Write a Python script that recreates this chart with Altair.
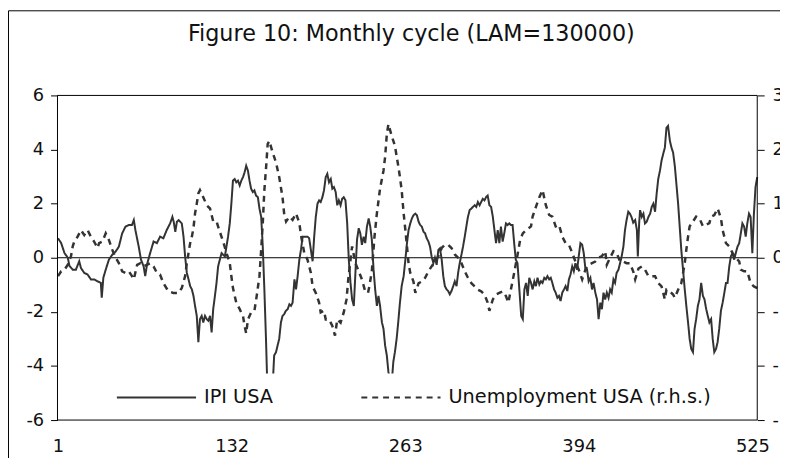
import altair as alt
import pandas as pd

FONT = "DejaVu Sans"
TITLE = "Figure 10: Monthly cycle (LAM=130000)"
series_names = ["IPI USA", "Unemployment USA (r.h.s.)"]
x_ticks = [1, 132, 263, 394, 525]
left_ticks = [-6, -4, -2, 0, 2, 4, 6]
right_ticks = [-3, -2, -1, 0, 1, 2, 3]

# IPI USA (left axis)
ipi_t = [1, 3.4, 5.9, 8.4, 9.6, 12.1, 14.5, 17.0, 18.3, 20.8, 23.3, 25.8, 28.2, 30.8, 33.3, 34.0, 35.2, 37.0,
         39.4, 41.9, 44.5, 46.9, 49.4, 51.9, 54.4, 56.8, 58.2, 59.4, 61.9, 63.6, 65.6, 66.8, 68.1, 70.5, 73.1,
         75.6, 78.0, 80.5, 83.0, 85.6, 87.3, 88.3, 89.5, 90.7, 92.0, 94.4, 95.7, 96.9, 98.2, 99.5, 100.7, 102.0,
         103.2, 104.4, 105.7, 106.9, 108.1, 109.4, 110.6, 111.9, 113.2, 114.4, 115.7, 116.9, 118.1, 119.4,
         120.6, 121.8, 123.1, 124.4, 125.6, 126.9, 128.1, 129.3, 130.6, 131.8, 133.0, 134.3, 135.5, 136.8,
         138.1, 139.3, 140.6, 141.8, 143.0, 144.3, 145.5, 146.7, 148.0, 149.2, 150.4, 151.8, 153.0, 154.3,
         155.5, 156.7, 158.0, 158.7, 160.8, 163.4, 164.1, 165.5, 166.7, 167.9, 169.2, 170.4, 171.6, 172.9,
         174.3, 175.6, 176.8, 178.0, 179.4, 180.6, 181.8, 183.1, 184.3, 185.6, 186.8, 188.0, 189.3, 190.5,
         191.8, 193.1, 194.3, 195.5, 196.8, 198.0, 199.2, 200.5, 201.7, 203.0, 204.2, 205.5, 206.8, 208.0,
         209.2, 210.5, 211.7, 212.9, 214.2, 215.4, 216.6, 217.9, 219.2, 220.4, 221.7, 222.9, 224.2, 225.4,
         226.6, 227.9, 229.1, 230.3, 231.6, 232.8, 234.1, 235.4, 236.6, 237.8, 239.1, 240.3, 241.6, 242.8,
         244.0, 245.4, 246.6, 247.8, 249.1, 250.3, 251.8, 253.3, 254.0, 255.2, 256.5, 257.7, 259.0, 260.3,
         261.8, 263.1, 264.3, 265.5, 266.8, 268.0, 269.2, 270.6, 271.8, 273.1, 274.3, 275.5, 276.8, 278.0,
         279.2, 280.5, 281.7, 282.9, 284.2, 285.4, 286.7, 288.0, 289.2, 290.5, 291.7, 292.9, 294.2, 295.4,
         296.6, 297.9, 299.2, 300.4, 301.7, 302.9, 304.1, 305.4, 306.6, 307.9, 309.1, 310.3, 311.6, 312.9,
         314.1, 315.4, 316.6, 317.8, 319.1, 320.3, 321.5, 322.8, 324.0, 325.2, 326.5, 327.8, 329.1, 330.3,
         331.5, 332.8, 334.0, 335.2, 336.5, 337.7, 339.0, 340.3, 341.5, 342.7, 344.0, 345.2, 346.4, 347.7,
         349.1, 350.5, 351.7, 352.9, 354.2, 355.4, 356.6, 357.9, 359.1, 360.4, 361.6, 362.8, 364.2, 365.4,
         366.6, 367.9, 369.1, 370.3, 371.6, 372.8, 374.0, 375.3, 376.5, 377.8, 379.0, 380.2, 381.5, 382.8,
         384.0, 385.3, 386.5, 387.7, 389.0, 390.2, 391.4, 392.7, 393.9, 395.2, 396.5, 397.7, 399.0, 400.2,
         401.4, 402.7, 403.9, 405.1, 406.4, 407.7, 408.9, 410.2, 411.4, 412.6, 413.9, 415.1, 416.4, 417.6,
         418.8, 420.1, 421.3, 422.5, 423.9, 425.1, 426.3, 427.6, 428.8, 430.0, 431.3, 432.5, 433.7, 435.0,
         436.5, 437.8, 438.5, 439.5, 440.2, 441.5, 442.7, 443.9, 445.2, 446.5, 447.8, 449.0, 450.2, 451.5,
         452.7, 453.9, 455.2, 456.4, 457.6, 458.9, 460.1, 461.3, 462.7, 463.9, 465.1, 466.4, 467.6, 468.9,
         470.1, 471.3, 472.6, 473.9, 475.1, 476.4, 477.6, 478.8, 480.1, 481.3, 482.5, 483.8, 485.0, 486.3,
         487.6, 488.8, 490.1, 491.3, 492.5, 493.8, 495.0, 496.2, 497.5, 498.7, 499.9, 501.2, 502.5, 503.8,
         505.0, 506.2, 507.5, 508.7, 509.9, 511.2, 512.4, 513.7, 515.0, 516.2, 517.4, 518.7, 519.9, 521.1,
         522.4, 523.6, 524.9, 526.1, 527.3, 528.6]
ipi_v = [0.72, 0.54, 0.17, 0.0, -0.3, -0.44, -0.44, -0.13, -0.38, -0.56, -0.62, -0.8, -0.8, -0.87, -0.93, -1.48,
         -0.74, -0.44, -0.07, 0.11, 0.23, 0.41, 0.9, 1.15, 1.21, 1.21, 1.39, 1.02, 0.41, -0.07, -0.32, -0.68,
         -0.26, 0.17, 0.6, 0.54, 0.78, 0.72, 1.02, 1.27, 1.51, 1.33, 0.96, 1.33, 1.39, 1.27, 0.78, 0.05, -0.56,
         -0.8, -1.05, -1.17, -1.41, -1.78, -2.15, -3.12, -2.27, -2.15, -2.39, -2.15, -2.27, -2.33, -2.15, -2.76,
         -1.9, -1.41, -0.93, -0.32, -0.07, 0.17, 0.11, 0.05, 0.41, 0.78, 1.27, 2.0, 2.85, 2.91, 2.79, 2.85,
         2.67, 2.85, 2.98, 3.16, 3.4, 3.22, 2.85, 2.55, 2.43, 2.49, 2.3, 2.24, 1.82, 1.51, 0.41, -1.17, -3.12,
         -4.34, -5.0, -4.3, -3.61, -3.49, -3.24, -3.0, -2.39, -2.15, -2.09, -1.96, -1.9, -1.72, -1.78, -1.66,
         -0.8, -1.17, -0.68, -0.07, 0.29, 0.78, 0.78, 0.78, 0.78, 0.72, 0.29, -0.13, 0.78, 1.51, 2.0, 2.12,
         2.06, 2.24, 2.49, 2.98, 3.1, 2.79, 2.91, 2.55, 2.61, 2.43, 1.94, 2.12, 1.94, 2.18, 2.24, 2.12, 1.27,
         -0.07, -0.93, -1.54, -1.78, -0.56, 0.66, 1.09, 0.9, 0.48, 0.78, 0.54, 1.15, 1.45, 1.15, 0.66, -0.44,
         -1.17, -1.78, -1.41, -1.78, -2.39, -2.63, -3.24, -3.61, -4.22, -4.6, -4.3, -3.85, -3.49, -3.0, -2.39,
         -1.66, -1.05, -0.68, -0.07, 0.54, 1.02, 1.27, 1.45, 1.57, 1.63, 1.57, 1.33, 1.21, 1.15, 0.96, 0.9,
         0.72, 0.6, 0.41, 0.05, -0.2, 0.0, -0.26, 0.29, 0.35, -0.07, -0.68, -1.05, -1.17, -1.23, -1.35, -1.23,
         -1.05, -0.87, -1.05, -0.56, -0.2, 0.11, 0.41, 0.78, 1.15, 1.51, 1.76, 1.82, 1.88, 1.94, 1.88, 2.06,
         1.94, 2.06, 2.18, 2.12, 2.24, 2.3, 1.94, 1.88, 1.51, 1.02, 0.54, 1.02, 0.54, 1.15, 0.6, 0.9, 1.27,
         1.21, 1.27, 1.21, 1.21, 0.54, -0.07, -0.2, -1.17, -2.15, -2.27, -1.17, -0.93, -1.41, -0.74, -0.93,
         -1.17, -0.87, -1.05, -0.74, -0.99, -0.87, -0.93, -0.74, -0.8, -0.68, -0.8, -0.74, -0.93, -1.17, -1.29,
         -1.48, -1.41, -1.6, -1.29, -1.17, -1.05, -1.23, -0.8, -0.62, -0.32, -0.5, -0.2, -0.44, 0.05, 0.54,
         0.48, 0.17, -0.44, -0.44, -0.87, -0.74, -1.17, -0.93, -1.29, -1.54, -2.27, -1.66, -1.9, -1.29, -1.54,
         -1.29, -1.48, -1.17, -1.29, -0.8, -0.93, -0.56, -0.44, -0.2, 0.05, 0.41, 1.02, 1.39, 1.7, 1.63, 1.51,
         1.3, 1.39, 1.02, 0.05, 1.27, 1.76, 1.51, 1.63, 1.27, 1.33, 1.51, 1.63, 1.88, 2.0, 1.7, 2.37, 2.91,
         3.22, 3.59, 3.83, 4.07, 4.8, 4.87, 4.32, 4.07, 3.89, 3.4, 2.73, 2.0, 1.15, 0.29, -0.44, -1.17, -1.78,
         -2.39, -3.0, -3.37, -3.49, -2.63, -2.27, -1.78, -1.54, -0.93, -1.41, -1.54, -1.9, -2.15, -2.39, -2.27,
         -3.0, -3.49, -3.37, -3.12, -2.63, -1.96, -1.66, -1.29, -0.93, -0.93, -0.32, 0.05, 0.17, -0.07, 0.17,
         0.41, 0.54, 0.9, 1.27, 1.15, 0.78, 1.27, 1.63, 1.51, 0.17, 1.63, 2.61, 2.98]

# Unemployment USA (right axis)
une_t = [1, 3.4, 5.9, 8.4, 10.8, 12.1, 13.3, 15.8, 18.3, 20.8, 23.3, 25.8, 28.2, 30.8, 32.0, 34.5, 37.0, 39.4,
         41.9, 44.5, 46.9, 49.4, 51.9, 54.4, 56.8, 58.2, 60.7, 63.1, 65.6, 68.1, 70.5, 73.1, 75.6, 78.0, 80.5,
         84.3, 88.0, 92.0, 94.4, 96.9, 98.2, 99.5, 100.7, 102.0, 103.2, 104.4, 105.7, 106.9, 108.1, 110.6,
         113.2, 115.7, 118.1, 120.6, 123.1, 125.6, 128.1, 130.6, 131.8, 133.0, 135.5, 138.1, 140.6, 141.8,
         143.0, 144.3, 146.7, 149.2, 150.9, 153.0, 154.3, 155.5, 156.7, 158.0, 159.2, 160.4, 162.9, 165.5,
         167.9, 170.4, 171.6, 173.1, 175.6, 178.0, 180.6, 183.1, 184.3, 186.8, 189.3, 191.8, 193.1, 195.5,
         198.0, 199.2, 201.7, 203.0, 205.5, 208.0, 210.0, 211.7, 214.2, 216.6, 218.7, 220.0, 221.7, 222.9,
         225.4, 227.9, 230.3, 232.8, 234.9, 235.9, 237.8, 239.8, 241.6, 244.0, 246.6, 247.8, 249.1, 250.3,
         252.8, 255.2, 257.7, 259.0, 260.3, 261.8, 263.1, 264.3, 265.5, 266.8, 269.2, 270.6, 273.1, 275.5,
         278.0, 280.5, 282.9, 285.4, 288.0, 290.5, 292.9, 295.4, 297.9, 300.4, 302.9, 305.4, 307.9, 310.3,
         312.9, 315.4, 317.8, 320.3, 322.8, 325.2, 326.5, 329.1, 331.5, 334.0, 336.5, 339.0, 340.8, 342.7,
         345.2, 347.7, 349.7, 351.7, 354.2, 357.9, 359.1, 361.6, 364.2, 366.6, 369.1, 371.6, 374.0, 376.5,
         379.0, 381.5, 384.0, 386.5, 389.0, 391.4, 393.9, 396.5, 399.0, 401.4, 403.9, 406.4, 408.9, 411.4,
         413.9, 415.1, 417.6, 420.1, 422.5, 425.1, 427.6, 430.0, 432.5, 435.0, 436.5, 439.0, 441.5, 443.9,
         446.5, 449.0, 451.5, 453.9, 456.4, 458.9, 460.1, 462.7, 465.1, 466.4, 468.9, 471.3, 473.9, 475.1,
         476.4, 477.6, 480.1, 482.5, 485.0, 487.6, 490.1, 492.5, 493.8, 496.2, 498.7, 501.2, 502.5, 505.0,
         507.5, 509.9, 512.4, 515.0, 516.2, 518.7, 521.1, 523.6, 526.1, 528.6]
une_v = [-0.34, -0.25, -0.22, -0.13, 0.03, 0.21, 0.3, 0.39, 0.51, 0.42, 0.51, 0.39, 0.3, 0.18, 0.27, 0.3, 0.45,
         0.33, 0.15, 0.0, -0.1, -0.25, -0.28, -0.25, -0.34, -0.4, -0.13, -0.1, -0.16, -0.13, -0.1, -0.16, -0.28,
         -0.31, -0.47, -0.62, -0.65, -0.65, -0.56, -0.34, -0.1, 0.09, 0.27, 0.39, 0.55, 0.82, 1.0, 1.19, 1.25,
         1.12, 0.97, 0.91, 0.67, 0.67, 0.48, 0.3, 0.09, -0.1, -0.34, -0.56, -0.83, -0.95, -1.08, -1.26, -1.4,
         -1.14, -1.01, -0.98, -0.71, -0.34, 0.15, 0.64, 1.25, 1.67, 2.1, 2.16, 1.95, 1.76, 1.49, 1.12, 0.82,
         0.67, 0.76, 0.7, 0.82, 0.64, 0.42, 0.09, -0.04, -0.28, -0.53, -0.65, -0.83, -1.01, -0.98, -1.14, -1.14,
         -1.26, -1.44, -1.14, -1.2, -1.01, -0.77, -0.4, -0.04, 0.21, -0.1, -0.25, -0.4, -0.62, -0.65, -0.53,
         -0.25, 0.39, 0.82, 1.28, 1.61, 1.86, 2.28, 2.47, 2.25, 2.07, 1.7, 1.49, 1.25, 0.82, 0.51, 0.21, -0.1,
         -0.28, -0.44, -0.65, -0.47, -0.44, -0.37, -0.25, -0.16, -0.07, 0.03, 0.18, 0.24, 0.24, 0.18, 0.06, 0.0,
         -0.1, -0.25, -0.37, -0.47, -0.53, -0.59, -0.62, -0.68, -0.83, -0.98, -0.77, -0.68, -0.65, -0.62, -0.71,
         -0.83, -0.59, -0.28, 0.05, 0.33, 0.45, 0.51, 0.58, 0.76, 0.94, 1.12, 1.25, 0.97, 0.79, 0.76, 0.58, 0.61,
         0.39, 0.27, 0.24, 0.09, -0.07, -0.22, -0.4, -0.22, -0.13, -0.1, -0.07, 0.0, 0.03, 0.12, -0.13, 0.0,
         0.12, 0.09, -0.07, -0.07, -0.1, -0.1, -0.25, -0.4, -0.2, -0.16, -0.22, -0.34, -0.34, -0.34, -0.47,
         -0.53, -0.77, -0.59, -0.62, -0.68, -0.74, -0.59, -0.47, -0.1, 0.15, 0.39, 0.58, 0.67, 0.76, 0.73, 0.58,
         0.61, 0.64, 0.76, 0.79, 0.91, 0.73, 0.51, 0.27, 0.21, 0.09, 0.0, -0.07, -0.22, -0.25, -0.25, -0.47,
         -0.53, -0.56]

ipi_df = pd.DataFrame({"t": ipi_t, "v": ipi_v, "series": series_names[0]})
une_df = pd.DataFrame({"t": une_t, "v": une_v, "series": series_names[1]})
zero_df = pd.DataFrame({"v": [0]})
one_row = pd.DataFrame({"a": [0]})

x_enc = alt.X("t:Q", scale=alt.Scale(domain=[0.6, 528.6], nice=False, zero=False),
              axis=alt.Axis(values=x_ticks, title=None, ticks=False, domain=False, grid=False,
                            labelFont=FONT, labelFontSize=18, labelColor="#111", labelPadding=18,
                            labelFlush=False, labelOverlap=False))

left_axis = alt.Axis(values=left_ticks, title=None, grid=False, domain=False, tickSize=7,
                     tickColor="black", labelFont=FONT, labelFontSize=18, labelColor="#111",
                     labelPadding=7, labelExpr="'' + datum.value")
y_left = alt.Y("v:Q", scale=alt.Scale(domain=[-6, 6], nice=False), axis=left_axis)

right_axis = alt.Axis(values=right_ticks, title=None, grid=False, domain=False, tickSize=7,
                      tickColor="black", orient="right", labelFont=FONT, labelFontSize=18,
                      labelColor="#111", labelPadding=8, labelExpr="'' + datum.value")
y_right = alt.Y("v:Q", scale=alt.Scale(domain=[-3, 3], nice=False), axis=right_axis)

dash = alt.StrokeDash(
    "series:N",
    scale=alt.Scale(domain=series_names, range=[[1, 0], [6, 5]]),
    legend=alt.Legend(title=None, orient="none", legendX=49, legendY=254, direction="horizontal",
                      symbolType="stroke", symbolSize=6400, symbolStrokeWidth=2,
                      symbolStrokeColor="#333", labelFont=FONT, labelFontSize=19.5,
                      labelColor="#111", labelOffset=7, labelLimit=500, columnPadding=85,
                      padding=10),
)

# outer chart border (decoration) and plot frame
outer = alt.Chart(one_row).mark_rect(fillOpacity=0, stroke="black", strokeWidth=1).encode(
    x=alt.value(-49.5), x2=alt.value(1200), y=alt.value(-85.5), y2=alt.value(1200))
plot_frame = alt.Chart(one_row).mark_rect(fillOpacity=0, stroke="black", strokeWidth=1).encode(
    x=alt.value(0), x2=alt.value(707), y=alt.value(0), y2=alt.value(328))
# white legend box that hides the lines behind it, as in the original
legend_box = alt.Chart(one_row).mark_rect(fill="white", stroke=None).encode(
    x=alt.value(50), x2=alt.value(662), y=alt.value(281), y2=alt.value(324))

zero = alt.Chart(zero_df).mark_rule(color="black", strokeWidth=1).encode(y=y_left)

ipi = alt.Chart(ipi_df).mark_line(color="#333", strokeWidth=2).encode(x=x_enc, y=y_left, strokeDash=dash)
une = alt.Chart(une_df).mark_line(color="#333", strokeWidth=2.5).encode(x=x_enc, y=y_right, strokeDash=dash)

left = alt.layer(outer, zero, ipi)
chart = alt.layer(left, une, legend_box, plot_frame).resolve_scale(y="independent").properties(
    width=707, height=328,
    autosize="none",
    padding={"left": 50, "top": 86, "right": 23, "bottom": 36},
    title=alt.TitleParams(TITLE, font=FONT, fontSize=22.5, fontWeight="normal", color="#111",
                          anchor="middle", frame="group", offset=-36, dx=4),
).configure_view(stroke=None)

chart.save("out.html", embed_options={"renderer": "svg", "actions": False})
